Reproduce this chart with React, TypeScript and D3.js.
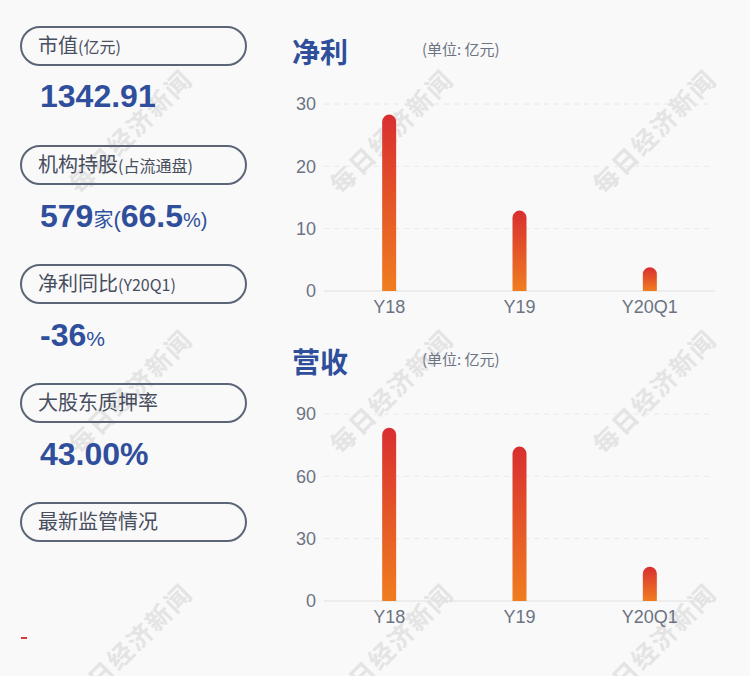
import React from "react";
import * as d3 from "d3";

const categories = ["Y18", "Y19", "Y20Q1"];
const profitValues = [28.3, 12.9, 3.8];
const revenueValues = [83.4, 74.3, 16.5];
const profitTicks = [0, 10, 20, 30];
const revenueTicks = [0, 30, 60, 90];

const BLUE = "#2f4e9b";
const GRAY = "#6c7383";
const FONT = "'Liberation Sans', Arial, 'Noto Sans CJK SC', sans-serif";
const CJK = "'Noto Sans CJK SC', 'Liberation Sans', sans-serif";

const W = 750;
const H = 676;

function BarChart({ top, title, values, ticks, max, gid }: any) {
  const x = d3.scaleBand().domain(categories).range([324, 715]);
  const y = d3.scaleLinear().domain([0, max]).range([top + 257, top + 70]);
  const bw = 14;
  return (
    <g>
      <text x={292} y={top + 29} fontFamily={CJK} fontWeight="bold" fontSize={28} fill={BLUE}>
        {title}
      </text>
      <text x={422} y={top + 21} fontFamily={CJK} fontSize={15} fill={GRAY}>
        (单位: 亿元)
      </text>
      {ticks.map((t: number) => (
        <g key={t}>
          <line
            x1={324}
            x2={715}
            y1={y(t)}
            y2={y(t)}
            stroke={t === 0 ? "#e0e0e0" : "#e8e8e8"}
            strokeWidth={1}
            strokeDasharray={t === 0 ? undefined : "5,5"}
          />
          <text x={316} y={y(t)} dy="0.35em" textAnchor="end" fontFamily={FONT} fontSize={18} fill={GRAY}>
            {t}
          </text>
        </g>
      ))}
      {categories.map((c, i) => {
        const cx = x(c)! + x.bandwidth() / 2;
        const yt = y(values[i]);
        const yb = y(0);
        const r = bw / 2;
        const d = `M${cx - r},${yb} L${cx - r},${yt + r} A${r},${r} 0 0 1 ${cx + r},${yt + r} L${cx + r},${yb} Z`;
        return (
          <g key={c}>
            <defs>
              <linearGradient id={`${gid}${i}`} x1="0" y1={yt} x2="0" y2={yb} gradientUnits="userSpaceOnUse">
                <stop offset="0%" stopColor="#d82f30" />
                <stop offset="100%" stopColor="#f07d1f" />
              </linearGradient>
            </defs>
            <path d={d} fill={`url(#${gid}${i})`} />
            <text x={cx} y={yb + 16} dy="0.35em" textAnchor="middle" fontFamily={FONT} fontSize={18} fill={GRAY}>
              {c}
            </text>
          </g>
        );
      })}
    </g>
  );
}

const pills = [
  { y: 27, main: "市值", sub: "(亿元)" },
  { y: 146, main: "机构持股", sub: "(占流通盘)" },
  { y: 265, main: "净利同比", sub: "(Y20Q1)" },
  { y: 384, main: "大股东质押率", sub: "" },
  { y: 503, main: "最新监管情况", sub: "" },
];

const watermarkX = [131, 392, 655];
const watermarkY = [132, 392, 646];

export default function App() {
  return (
    <svg width={W} height={H} style={{ display: "block", position: "absolute", left: 0, top: 0 }}>
      <rect width={W} height={H} fill="#f9f9f9" />
      {watermarkY.map((wy) =>
        watermarkX.map((wx) => (
          <text
            key={`${wx}-${wy}`}
            x={wx}
            y={wy}
            transform={`rotate(-45 ${wx} ${wy})`}
            textAnchor="middle"
            dy="0.35em"
            fontFamily={CJK}
            fontWeight="bold"
            fontSize={25}
            fill="#e4e4e4"
            letterSpacing={2}
          >
            每日经济新闻
          </text>
        ))
      )}
      {pills.map((p) => (
        <g key={p.main}>
          <rect x={21} y={p.y} width={225} height={38} rx={19} ry={19} fill="none" stroke="#5b6577" strokeWidth={2} />
          <text x={38} y={p.y + 26} fontFamily={CJK} fill="#474e5e">
            <tspan fontSize={20}>{p.main}</tspan>
            {p.sub && <tspan fontSize={16}>{p.sub}</tspan>}
          </text>
        </g>
      ))}
      <text x={40} y={107} fontFamily={FONT} fontWeight="bold" fontSize={32} fill={BLUE}>
        1342.91
      </text>
      <text x={40} y={227} fontFamily={FONT} fill={BLUE}>
        <tspan fontWeight="bold" fontSize={32}>579</tspan>
        <tspan fontFamily={CJK} fontSize={20}>家</tspan>
        <tspan fontSize={22}>(</tspan>
        <tspan fontWeight="bold" fontSize={32}>66.5</tspan>
        <tspan fontSize={20}>%)</tspan>
      </text>
      <text x={40} y={346} fontFamily={FONT} fill={BLUE}>
        <tspan fontWeight="bold" fontSize={32}>-36</tspan>
        <tspan fontSize={21}>%</tspan>
      </text>
      <text x={40} y={465} fontFamily={FONT} fontWeight="bold" fontSize={32} fill={BLUE}>
        43.00%
      </text>
      <rect x={21} y={637} width={6} height={2} fill="#d93a3a" />
      <BarChart top={34} title="净利" values={profitValues} ticks={profitTicks} max={30} gid="gp" />
      <BarChart top={344} title="营收" values={revenueValues} ticks={revenueTicks} max={90} gid="gr" />
    </svg>
  );
}
